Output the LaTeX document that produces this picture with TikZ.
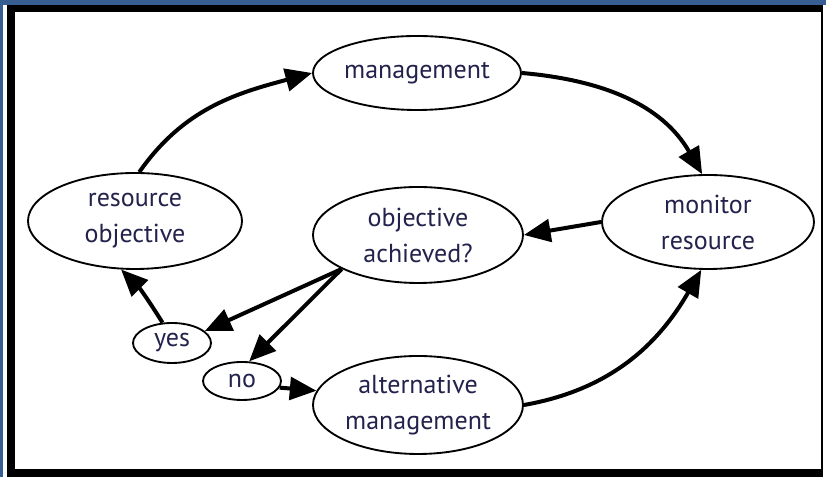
\documentclass[tikz,border=0pt]{standalone}
\usepackage{fontspec}
\setmainfont{PT Sans}
\usetikzlibrary{shapes.geometric,arrows.meta}
\definecolor{bgblue}{HTML}{375E90}
\definecolor{txtnavy}{HTML}{22224C}
\tikzset{
  oval/.style={ellipse, draw=black, line width=1.4pt, fill=white, inner sep=0pt,
    text=txtnavy, align=center, font=\fontsize{19.5}{27}\selectfont},
  flow/.style={line width=3pt, -{Triangle[length=20pt,width=17pt]}}
}
\begin{document}
\begin{tikzpicture}[x=0.75pt,y=0.75pt]
\useasboundingbox (0,0) rectangle (826,477);
\fill[bgblue] (0,0) rectangle (826,477);
\fill[white] (3,0) rectangle (826,472);
\fill[black] (7,0) rectangle (823,472);
\fill[white] (15,8) rectangle (821,465);

\node[oval, minimum width=156pt, minimum height=55.5pt] (mgmt) at (417,404) {management};
\node[oval, minimum width=159pt, minimum height=70.5pt] (monitor) at (708,255) {monitor\\resource};
\node[oval, minimum width=160.5pt, minimum height=72pt] (resobj) at (135,256) {resource\\objective};
\node[oval, minimum width=157.5pt, minimum height=72pt] (objach) at (418,242) {objective\\achieved?};
\node[oval, minimum width=157.5pt, minimum height=73.5pt] (altm) at (418,72) {alternative\\management};
\node[oval, minimum width=58.5pt, minimum height=30pt] (yes) at (172,134) {yes};
\node[oval, minimum width=58.5pt, minimum height=28.5pt] (no) at (242,96) {no};

\draw[flow] (resobj.85) to[out=55, in=195] (mgmt.west);
\draw[flow] (mgmt.east) to[out=-5, in=120] (monitor.97);
\draw[flow] (monitor.west) -- (objach.east);
\draw[flow] (objach.204) -- (yes.20);
\draw[flow] (objach.204) -- (no.70);
\draw[flow] (no.-10) -- (altm.172);
\draw[flow] (altm.east) to[out=10, in=240] (monitor.262);
\draw[flow] (yes.115) to[out=122, in=-45] (resobj.-106);
\end{tikzpicture}
\end{document}
